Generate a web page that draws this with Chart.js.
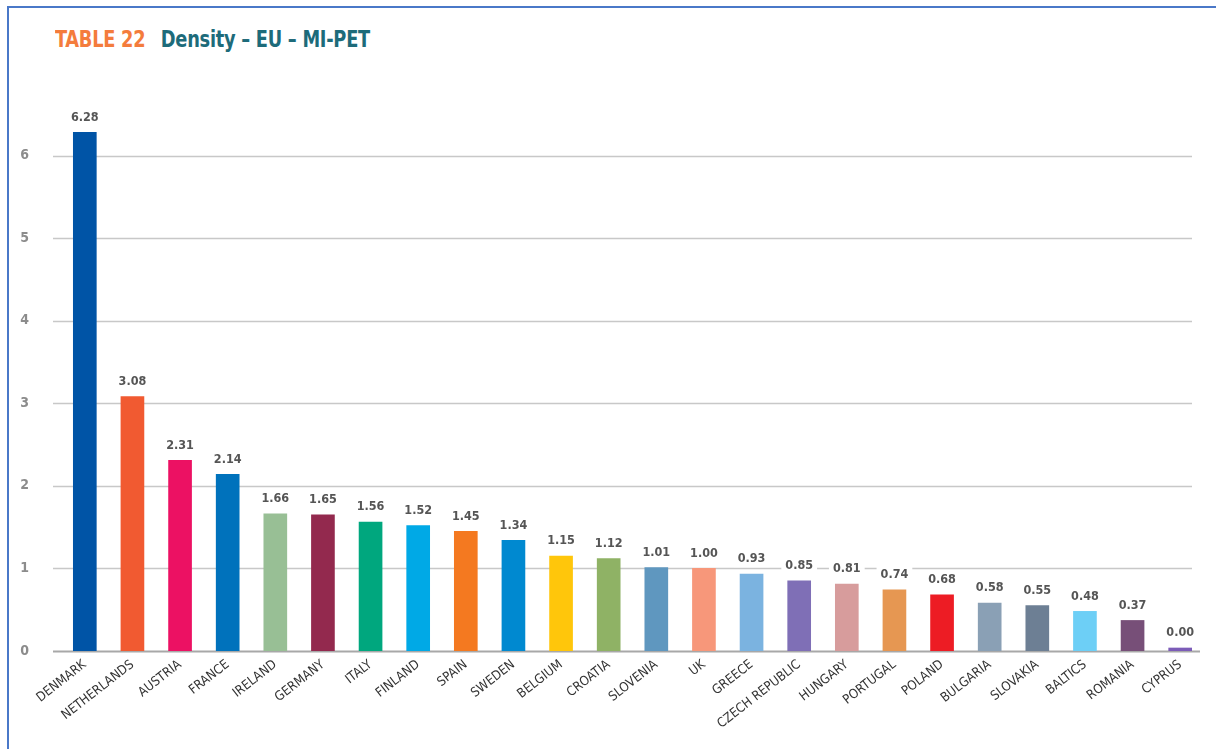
<!DOCTYPE html>
<html>
<head>
<meta charset="utf-8">
<script src="https://cdn.jsdelivr.net/npm/chart.js@4.4.0/dist/chart.umd.min.js"></script>
<style>
  html, body { margin: 0; padding: 0; background: #fff; }
  #wrap { position: relative; width: 1216px; height: 749px; overflow: hidden; }
  #frame { position: absolute; left: 7px; top: 6px; right: -10px; bottom: -10px;
           border-left: 2px solid #4a78c8; border-top: 2px solid #4a78c8; }
  #title { position: absolute; left: 55px; top: 26px; font-family: 'Liberation Sans Narrow', 'DejaVu Sans Condensed', sans-serif;
           font-weight: bold; font-size: 23px; letter-spacing: -0.3px; white-space: nowrap;
           transform: scaleX(0.86); transform-origin: left top; }
  #title .num { color: #f47c3c; margin-right: 18px; }
  #title .txt { color: #1d6b7a; }
  canvas { position: absolute; left: 0; top: 0; }
</style>
</head>
<body>
<div id="wrap">
  <div id="frame"></div>
  <div id="title"><span class="num">TABLE 22</span><span class="txt">Density – EU – MI-PET</span></div>
  <canvas id="chart" width="1216" height="749"></canvas>
</div>
<script>
const countries = ['DENMARK', 'NETHERLANDS', 'AUSTRIA', 'FRANCE', 'IRELAND', 'GERMANY', 'ITALY', 'FINLAND',
  'SPAIN', 'SWEDEN', 'BELGIUM', 'CROATIA', 'SLOVENIA', 'UK', 'GREECE', 'CZECH REPUBLIC', 'HUNGARY',
  'PORTUGAL', 'POLAND', 'BULGARIA', 'SLOVAKIA', 'BALTICS', 'ROMANIA', 'CYPRUS'];
const density = [6.28, 3.08, 2.31, 2.14, 1.66, 1.65, 1.56, 1.52, 1.45, 1.34, 1.15, 1.12, 1.01, 1.00,
  0.93, 0.85, 0.81, 0.74, 0.68, 0.58, 0.55, 0.48, 0.37, 0.00];
const barColors = ['#0054a6', '#f15a31', '#ec1163', '#0072bc', '#98bf95', '#93294e', '#00a77e', '#00a9e6',
  '#f47920', '#0089d0', '#ffc60b', '#8fb265', '#5f97bf', '#f7977a', '#7bb3e0', '#7f6fb6', '#d79c9c',
  '#e69752', '#ed1c24', '#8aa0b5', '#6d7f94', '#6dcff6', '#774f78', '#7c5cb8'];
const yTicks = [0, 1, 2, 3, 4, 5, 6];

const narrow = "'Liberation Sans Narrow', 'DejaVu Sans Condensed', sans-serif";

// horizontal grid lines, a bit offset from the plot area like the original
const gridLines = {
  id: 'gridLines',
  beforeDatasetsDraw(chart) {
    const { ctx, chartArea, scales } = chart;
    ctx.save();
    yTicks.forEach((t) => {
      const y = Math.round(scales.y.getPixelForValue(t)) + 0.5;
      ctx.strokeStyle = t === 0 ? '#a8a8a8' : '#c8c8c8';
      ctx.lineWidth = t === 0 ? 2 : 1.3;
      ctx.beginPath();
      ctx.moveTo(chartArea.left - 8, y);
      ctx.lineTo(t === 0 ? chartArea.right - 4 : chartArea.right - 12, y);
      ctx.stroke();
    });
    ctx.restore();
  }
};

// value labels above each bar with white background
const valueLabels = {
  id: 'valueLabels',
  afterDatasetsDraw(chart) {
    const { ctx } = chart;
    const meta = chart.getDatasetMeta(0);
    ctx.save();
    ctx.font = 'bold 12.5px ' + narrow;
    ctx.textAlign = 'center';
    ctx.textBaseline = 'middle';
    meta.data.forEach((bar, i) => {
      const txt = density[i].toFixed(2);
      const y = bar.y - 15;
      const w = ctx.measureText(txt).width;
      ctx.fillStyle = '#fff';
      ctx.fillRect(bar.x - w / 2 - 4, y - 8, w + 8, 16);
      ctx.fillStyle = '#555';
      ctx.fillText(txt, bar.x, y);
    });
    ctx.restore();
  }
};

new Chart(document.getElementById('chart'), {
  type: 'bar',
  data: {
    labels: countries,
    datasets: [{
      data: density,
      backgroundColor: barColors,
      borderWidth: 0,
      barThickness: 23,
      minBarLength: 3
    }]
  },
  options: {
    responsive: false,
    animation: false,
    layout: { padding: { top: 106, right: 12, left: 0, bottom: 0 } },
    plugins: { legend: { display: false }, tooltip: { enabled: false } },
    scales: {
      x: {
        grid: { display: false, drawTicks: false },
        border: { display: false },
        ticks: {
          color: '#333',
          font: { family: narrow, size: 13 },
          minRotation: 38,
          maxRotation: 38,
          padding: 6,
          autoSkip: false
        },
        afterFit(scale) { scale.height = 98; }
      },
      y: {
        min: 0,
        max: 6.6,
        grid: { display: false, drawTicks: false },
        border: { display: false },
        afterBuildTicks(scale) { scale.ticks = yTicks.map((v) => ({ value: v })); },
        ticks: {
          color: '#8c8c8c',
          font: { family: narrow, size: 14, weight: 'bold' },
          padding: 32
        },
        afterFit(scale) { scale.width = 61; }
      }
    }
  },
  plugins: [gridLines, valueLabels]
});
</script>
</body>
</html>
